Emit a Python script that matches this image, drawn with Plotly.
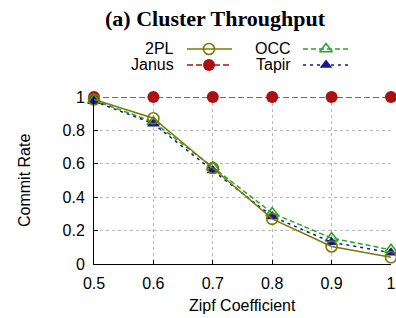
import plotly.graph_objects as go

zipf = [0.5, 0.6, 0.7, 0.8, 0.9, 1.0]
rate_2pl = [0.985, 0.873, 0.575, 0.27, 0.105, 0.04]
rate_janus = [1.0, 1.0, 1.0, 1.0, 1.0, 1.0]
rate_occ = [0.98, 0.85, 0.58, 0.305, 0.155, 0.085]
rate_tapir = [0.975, 0.84, 0.56, 0.285, 0.13, 0.068]

series_names = ["2PL", "Janus", "OCC", "Tapir"]
x_ticks = [0.5, 0.6, 0.7, 0.8, 0.9, 1.0]
x_ticktext = ["0.5", "0.6", "0.7", "0.8", "0.9", "1"]
y_ticks = [0, 0.2, 0.4, 0.6, 0.8, 1.0]
y_ticktext = ["0", "0.2", "0.4", "0.6", "0.8", "1"]

W, H = 396, 318
# plot area in pixels
PL, PR, PT, PB = 94, 391, 97, 264
# legend area in pixels
LL, LR, LT, LB = 150, 360, 40, 75

def fx(x):
    return x / W

def fy(y):
    return (H - y) / H

styles = {
    "2PL": dict(color="#7a7a00", dash="solid", symbol="circle-open", size=11, mw=1.6),
    "Janus": dict(color="#aa1111", dash="6px,3px", symbol="circle", size=12, mw=0),
    "OCC": dict(color="#22aa22", dash="5px,3px", symbol="triangle-up-open", size=11, mw=1.6),
    "Tapir": dict(color="#1414a0", dash="3px,4px", symbol="triangle-up", size=11, mw=0),
}
values = {"2PL": rate_2pl, "Janus": rate_janus, "OCC": rate_occ, "Tapir": rate_tapir}

fig = go.Figure()
for name in ["Janus", "OCC", "Tapir", "2PL"]:
    s = styles[name]
    fig.add_trace(go.Scatter(
        x=zipf, y=values[name], mode="lines+markers", name=name, showlegend=False,
        cliponaxis=False,
        line=dict(color=s["color"], width=1.5, dash=s["dash"]),
        marker=dict(symbol=s["symbol"], size=s["size"], color=s["color"],
                    line=dict(color=s["color"], width=s["mw"])),
    ))

# manual legend (gnuplot style: text, then sample) on its own pixel-scaled axes
legend_pos = {"2PL": (176, 187, 232, 209, 49), "Janus": (176, 187, 232, 209, 65),
              "OCC": (293, 303, 348, 326, 49), "Tapir": (293, 303, 348, 326, 65)}
annotations = []
for name in series_names:
    s = styles[name]
    tx, x0, x1, mx, yy = legend_pos[name]
    annotations.append(dict(text=name, x=fx(tx), y=fy(yy), xref="paper", yref="paper",
                            xanchor="right", yanchor="middle", showarrow=False,
                            font=dict(family="Liberation Sans", size=16, color="black")))
    fig.add_trace(go.Scatter(
        x=[x0, mx, x1], y=[yy, yy, yy], xaxis="x2", yaxis="y2", mode="lines",
        showlegend=False, hoverinfo="skip", cliponaxis=False,
        line=dict(color=s["color"], width=1.5, dash=s["dash"]),
    ))
    fig.add_trace(go.Scatter(
        x=[mx], y=[yy], xaxis="x2", yaxis="y2", mode="markers", showlegend=False,
        cliponaxis=False, hoverinfo="skip",
        marker=dict(symbol=s["symbol"], size=s["size"], color=s["color"],
                    line=dict(color=s["color"], width=s["mw"])),
    ))

annotations.append(dict(text="<b>(a) Cluster Throughput</b>", x=fx(216), y=fy(19),
                        xref="paper", yref="paper", xanchor="center", yanchor="middle",
                        showarrow=False,
                        font=dict(family="Liberation Serif", size=22, color="black")))
annotations.append(dict(text="Commit Rate", x=fx(24), y=fy(181), xref="paper", yref="paper",
                        xanchor="center", yanchor="middle", showarrow=False, textangle=-90,
                        font=dict(family="Liberation Sans", size=16, color="black")))
annotations.append(dict(text="Zipf Coefficient", x=fx(242), y=fy(305), xref="paper",
                        yref="paper", xanchor="center", yanchor="middle", showarrow=False,
                        font=dict(family="Liberation Sans", size=16, color="black")))

axis_common = dict(showline=True, linecolor="black", linewidth=1, mirror=False,
                   ticks="inside", ticklen=4, tickcolor="black",
                   showgrid=True, gridcolor="#b8b8b8", griddash="dot", gridwidth=1,
                   zeroline=False, ticklabelstandoff=5, automargin=False,
                   tickfont=dict(family="Liberation Sans", size=16, color="black"))

fig.update_layout(
    width=W, height=H, margin=dict(l=0, r=0, t=0, b=0, pad=0),
    paper_bgcolor="white", plot_bgcolor="white",
    annotations=annotations,
    xaxis=dict(range=[0.5, 1.0], tickvals=x_ticks, ticktext=x_ticktext,
               domain=[fx(PL), fx(PR)], anchor="y", **axis_common),
    yaxis=dict(range=[0, 1.0], tickvals=y_ticks, ticktext=y_ticktext,
               domain=[fy(PB), fy(PT)], anchor="x", **axis_common),
    xaxis2=dict(range=[LL, LR], domain=[fx(LL), fx(LR)], anchor="y2", visible=False),
    yaxis2=dict(range=[LB, LT], domain=[fy(LB), fy(LT)], anchor="x2", visible=False),
)

fig.write_html("out.html", config={"displayModeBar": False},
               post_script="document.body.style.margin='0px';")
